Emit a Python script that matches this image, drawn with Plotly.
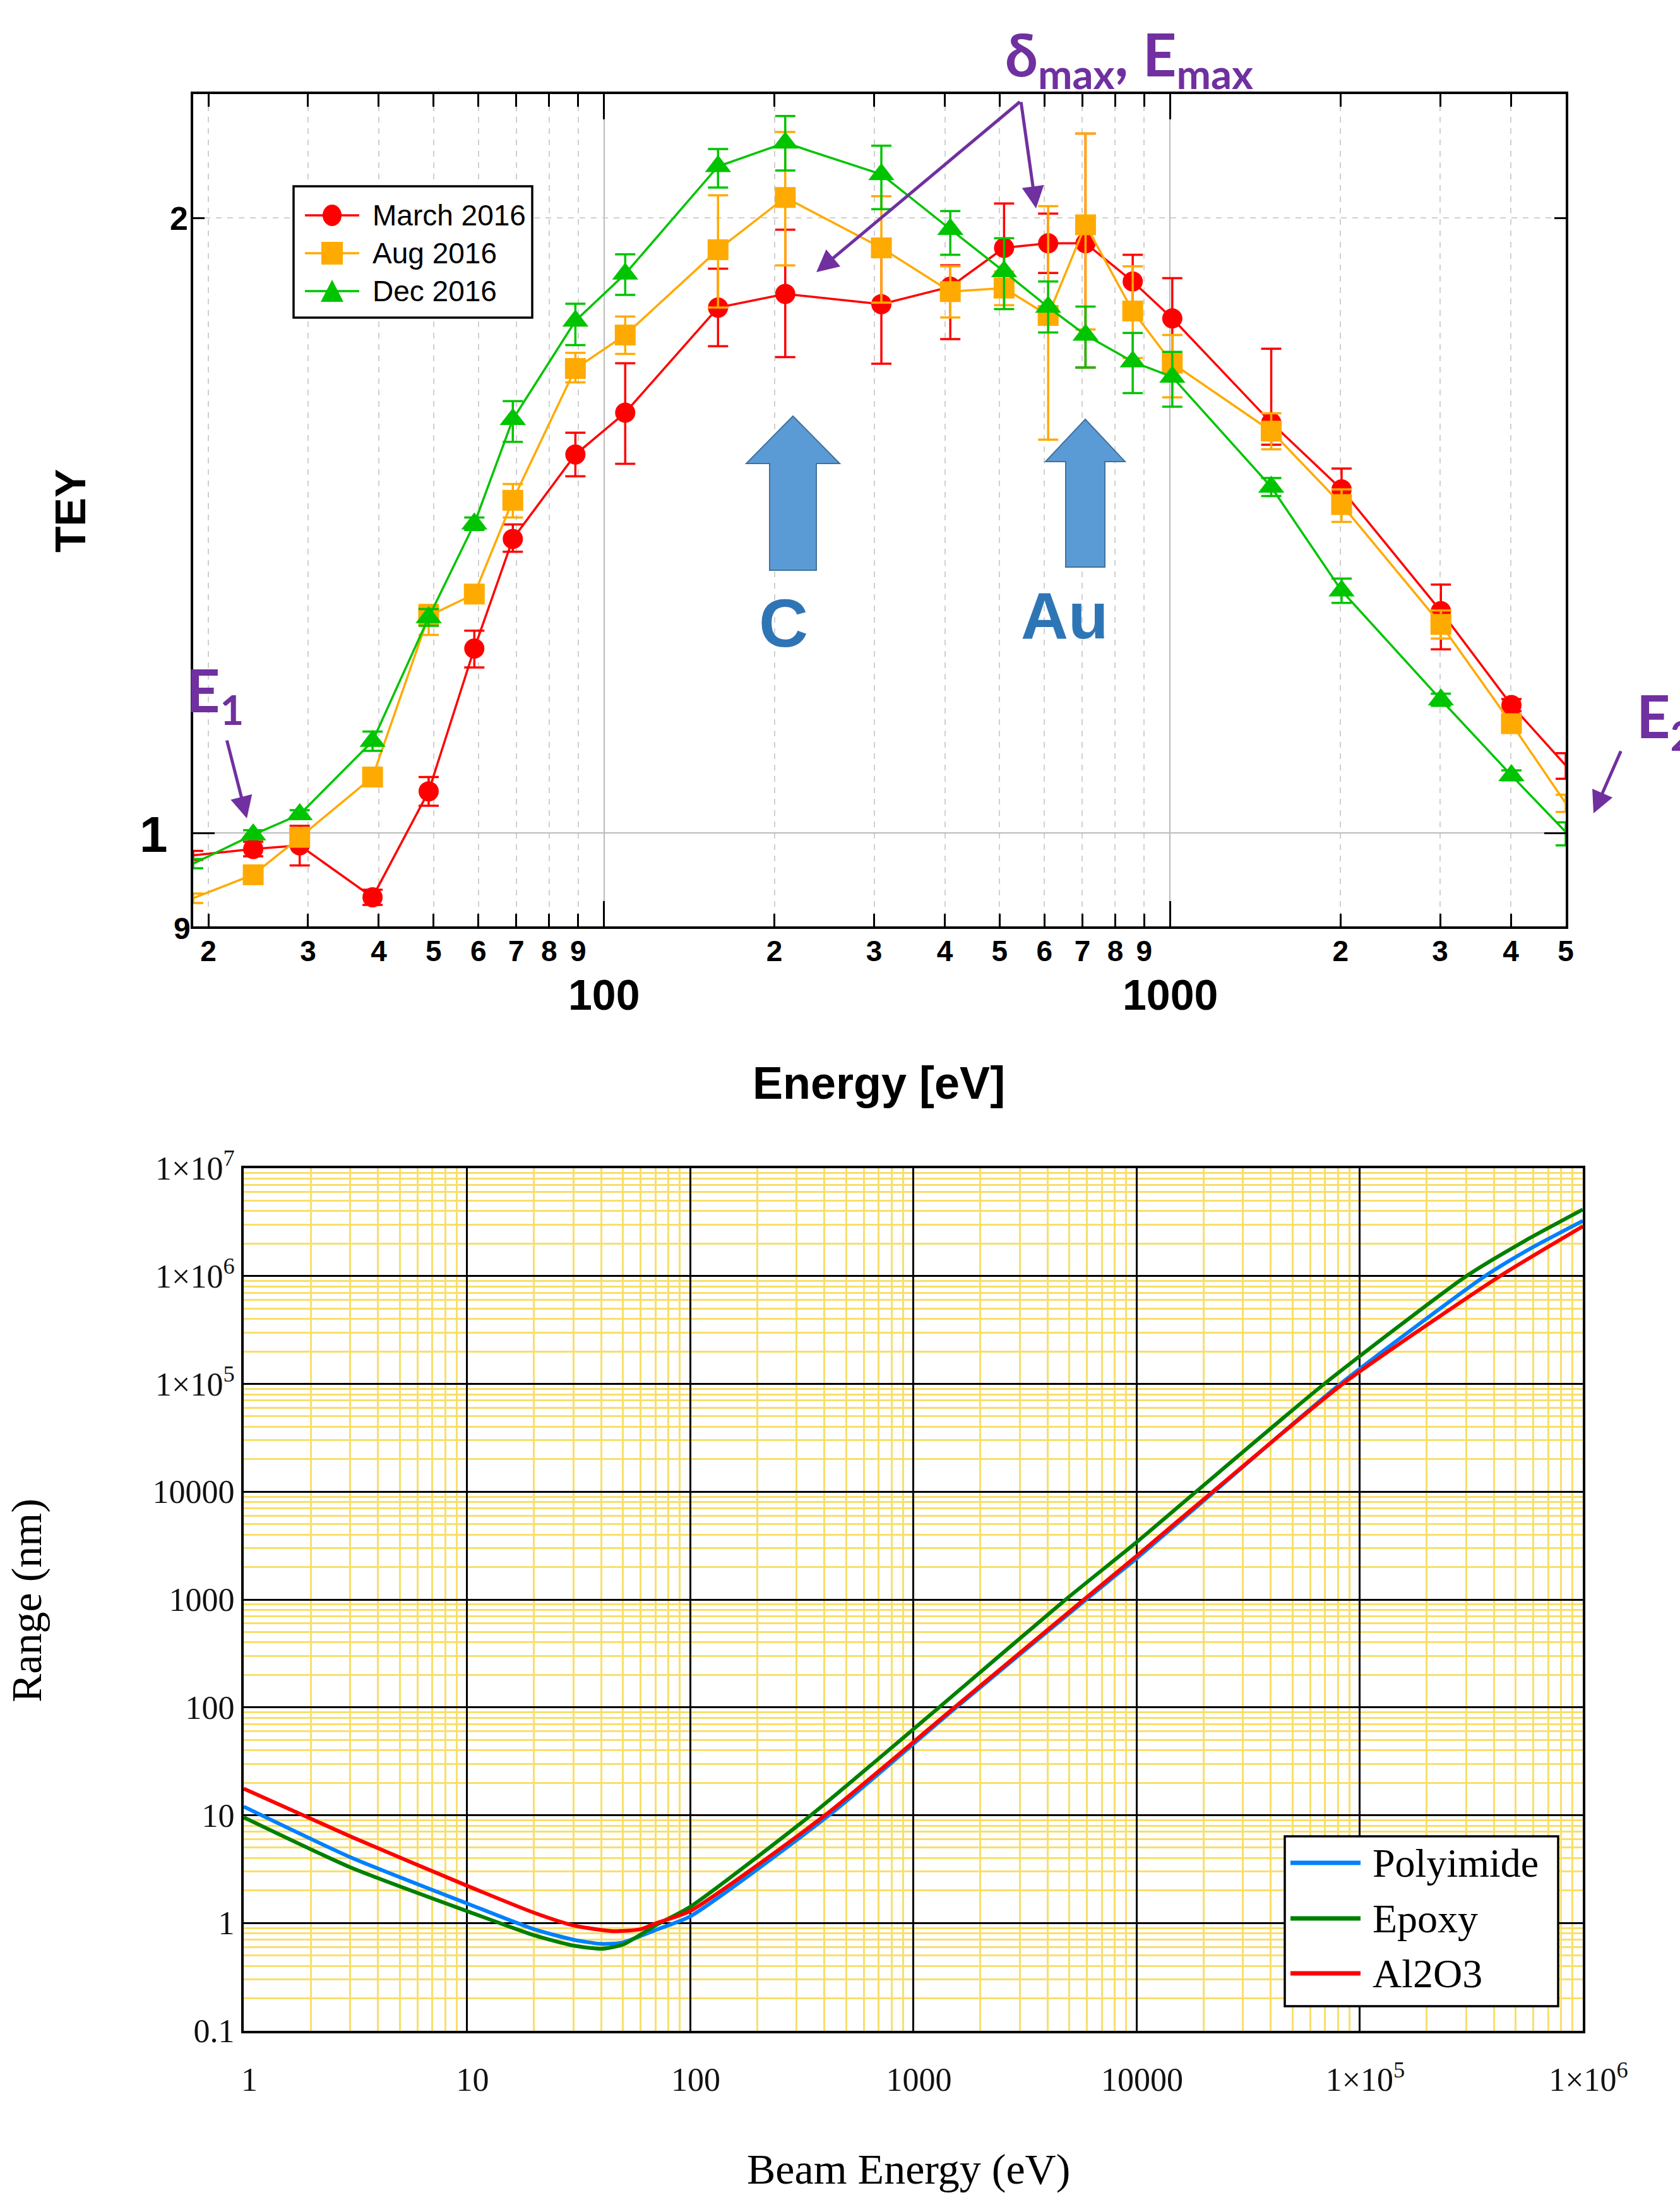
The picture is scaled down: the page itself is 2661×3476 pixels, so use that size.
import math
import plotly.graph_objects as go

W, H = 2661, 3476


def px(x):
    return x / W


def py(y):
    return 1 - y / H


# ---------------- data: top chart (TEY vs energy) ----------------
energy_ev = [18.8, 24, 29, 39, 49, 59, 69, 89, 109, 159, 209, 309, 409, 509,
             609, 709, 859, 1009, 1509, 2009, 3009, 4009, 5000]

march_2016 = [0.975, 0.982, 0.986, 0.930, 1.048, 1.231, 1.393, 1.532, 1.606, 1.808,
              1.836, 1.815, 1.851, 1.934, 1.944, 1.944, 1.862, 1.786, 1.588, 1.473,
              1.284, 1.155, 1.079]
march_err_up = [0.005, 0.008, 0.022, 0.008, 0.017, 0.025, 0.023, 0.038, 0.092, 0.081,
                0.138, 0.105, 0.045, 0.099, 0.066, 0.256, 0.057, 0.083, 0.138, 0.035,
                0.039, 0.008, 0.015]
march_err_dn = [0.005, 0.008, 0.022, 0.008, 0.017, 0.026, 0.020, 0.037, 0.090, 0.077,
                0.126, 0.118, 0.106, 0.099, 0.064, 0.254, 0.042, 0.094, 0.039, 0.035,
                0.054, 0.008, 0.016]

aug_2016 = [0.929, 0.954, 0.995, 1.065, 1.277, 1.309, 1.455, 1.688, 1.753, 1.930,
            2.047, 1.934, 1.841, 1.848, 1.792, 1.985, 1.801, 1.698, 1.573, 1.448,
            1.265, 1.131, 1.034]
aug_err_up = [0.005, 0.005, 0.008, 0.005, 0.016, 0.008, 0.027, 0.030, 0.037, 0.122,
              0.157, 0.116, 0.053, 0.035, 0.235, 0.215, 0.093, 0.055, 0.032, 0.025,
              0.020, 0.010, 0.010]
aug_err_dn = [0.005, 0.005, 0.008, 0.005, 0.027, 0.008, 0.028, 0.026, 0.037, 0.122,
              0.151, 0.116, 0.053, 0.035, 0.234, 0.221, 0.093, 0.064, 0.032, 0.028,
              0.020, 0.010, 0.010]

dec_2016 = [0.966, 0.998, 1.021, 1.109, 1.275, 1.417, 1.594, 1.781, 1.878, 2.120,
            2.177, 2.101, 1.975, 1.883, 1.809, 1.753, 1.701, 1.672, 1.477, 1.314,
            1.162, 1.067, 1.001]
dec_err_up = [0.005, 0.005, 0.005, 0.012, 0.012, 0.010, 0.033, 0.035, 0.042, 0.042,
              0.067, 0.069, 0.041, 0.072, 0.053, 0.057, 0.056, 0.048, 0.015, 0.018,
              0.008, 0.006, 0.011]
dec_err_dn = [0.005, 0.005, 0.005, 0.012, 0.012, 0.010, 0.040, 0.048, 0.044, 0.050,
              0.067, 0.081, 0.056, 0.078, 0.051, 0.063, 0.059, 0.055, 0.015, 0.018,
              0.008, 0.006, 0.015]

series_names = ["March 2016", "Aug 2016", "Dec 2016"]

top_minor_labels = ["2", "3", "4", "5", "6", "7", "8", "9"]
top_tick_vals = [20, 30, 40, 50, 60, 70, 80, 90,
                 200, 300, 400, 500, 600, 700, 800, 900,
                 2000, 3000, 4000, 5000]
top_tick_text = top_minor_labels + top_minor_labels + ["2", "3", "4", "5"]
top_decades = [100, 1000]
top_decade_labels = ["100", "1000"]

# ---------------- data: bottom chart (range vs beam energy) ----------------
poly_e = [1, 3, 10, 20, 30, 40, 50, 70, 100, 420, 1560, 5950, 10000, 22300,
          82000, 365000, 600000, 1000000]
poly_r = [12.0, 4.08, 1.52, 0.875, 0.70, 0.64, 0.66, 0.86, 1.15, 10, 100, 1000,
          2400, 10000, 100000, 1000000, 1860000, 3250000]

epoxy_e = [1, 3, 10, 20, 30, 40, 50, 70, 100, 348, 1306, 4820, 10000, 18500,
           69500, 301000, 550000, 1000000]
epoxy_r = [9.55, 3.29, 1.29, 0.77, 0.617, 0.577, 0.63, 0.95, 1.41, 10, 100, 1000,
           3394, 10000, 100000, 1000000, 2120000, 4140000]

al2o3_e = [1, 3, 10, 20, 30, 45, 60, 70, 100, 403, 1531, 5820, 10000, 21970,
           84100, 426000, 1000000]
al2o3_r = [17.6, 6.37, 2.22, 1.245, 0.95, 0.84, 0.875, 0.99, 1.29, 10, 100, 1000,
           2528, 10000, 100000, 1000000, 2890000]

material_names = ["Polyimide", "Epoxy", "Al2O3"]

bot_x_vals = [1, 10, 100, 1000, 10000, 1e5, 1e6]
bot_x_text = ["1", "10", "100", "1000", "10000", "1×10<sup>5</sup>", "1×10<sup>6</sup>"]
bot_y_vals = [0.1, 1, 10, 100, 1000, 10000, 1e5, 1e6, 1e7]
bot_y_text = ["0.1", "1", "10", "100", "1000", "10000", "1×10<sup>5</sup>",
              "1×10<sup>6</sup>", "1×10<sup>7</sup>"]

# ---------------- styles ----------------
RED, ORANGE, GREEN = "#FF0000", "#FFAA00", "#00C400"
BLUE2, GREEN2, RED2 = "#0080FF", "#008000", "#FF0000"
PURPLE = "#7030A0"
YELLOW = "#F8DF6A"
SANS = "Liberation Sans, Arial, sans-serif"
SERIF = "Liberation Serif, Times New Roman, serif"
CAL = "Lato, Open Sans, sans-serif"

fig = go.Figure()

tey_sets = [
    (march_2016, march_err_up, march_err_dn, RED, "circle", 32),
    (aug_2016, aug_err_up, aug_err_dn, ORANGE, "square", 33),
    (dec_2016, dec_err_up, dec_err_dn, GREEN, "triangle-up", 36),
]
for name, (vals, up, dn, col, sym, sz) in zip(series_names, tey_sets):
    fig.add_trace(go.Scatter(
        x=energy_ev, y=vals, name=name, mode="lines+markers",
        line=dict(color=col, width=3.5),
        marker=dict(symbol=sym, size=sz, color=col, line=dict(width=0)),
        error_y=dict(type="data", symmetric=False, array=up, arrayminus=dn,
                     color=col, thickness=3.5, width=16),
        xaxis="x", yaxis="y", showlegend=False, cliponaxis=False))

for name, e, r, col in zip(material_names, [poly_e, epoxy_e, al2o3_e],
                           [poly_r, epoxy_r, al2o3_r], [BLUE2, GREEN2, RED2]):
    fig.add_trace(go.Scatter(
        x=e, y=r, name=name, mode="lines",
        line=dict(color=col, width=6, shape="spline", smoothing=0.6),
        xaxis="x2", yaxis="y2", showlegend=False))

bot_minor_x = [d * 10 ** n for n in range(0, 7) for d in range(2, 10)]
bot_minor_y = [d * 10 ** n for n in range(-1, 7) for d in range(2, 10)]

fig.update_layout(
    width=W, height=H,
    margin=dict(l=0, r=0, t=0, b=0),
    paper_bgcolor="white", plot_bgcolor="white",
    showlegend=False,
    xaxis=dict(
        type="log", range=[1.2742, 3.69897], domain=[px(306), px(2480)],
        anchor="y", showline=True, linecolor="black", linewidth=4, mirror="ticks",
        ticks="inside", ticklen=20, tickwidth=3, tickcolor="black",
        tickmode="array", tickvals=top_tick_vals, ticktext=top_tick_text,
        tickfont=dict(family=SANS, size=46, color="black", weight="bold"),
        ticklabelstandoff=-4,
        showgrid=True, gridcolor="#D0D0D0", gridwidth=1.5, griddash="dash",
        minor=dict(tickmode="array", tickvals=top_decades, ticks="inside",
                   ticklen=40, tickwidth=3, tickcolor="black", showgrid=True,
                   gridcolor="#BBBBBB", gridwidth=1.5, griddash="solid"),
        zeroline=False, automargin=False),
    yaxis=dict(
        type="log", range=[-0.045757, 0.36173], domain=[py(1467), py(149)],
        anchor="x", showline=True, linecolor="black", linewidth=4, mirror="ticks",
        ticks="inside", ticklen=34, tickwidth=3, tickcolor="black",
        tickmode="array", tickvals=[1], showticklabels=False,
        showgrid=True, gridcolor="#BBBBBB", gridwidth=1.5,
        minor=dict(tickmode="array", tickvals=[2], ticks="inside", ticklen=18,
                   tickwidth=3, tickcolor="black", showgrid=True,
                   gridcolor="#D0D0D0", gridwidth=1.5, griddash="dash"),
        zeroline=False, automargin=False),
    xaxis2=dict(
        type="log", range=[0, 6], domain=[px(386), px(2507)], anchor="y2",
        showline=True, linecolor="black", linewidth=4, mirror=True,
        ticks="", tickmode="array", tickvals=bot_x_vals, ticktext=bot_x_text,
        tickfont=dict(family=SERIF, size=52, color="#111111"),
        ticklabelstandoff=29, ticklabelshift=9,
        showgrid=True, gridcolor="black", gridwidth=3,
        minor=dict(tickmode="array", tickvals=bot_minor_x, ticks="", showgrid=True,
                   gridcolor=YELLOW, gridwidth=3),
        zeroline=False, automargin=False),
    yaxis2=dict(
        type="log", range=[-1, 7], domain=[py(3216), py(1850)], anchor="x2",
        showline=True, linecolor="black", linewidth=4, mirror=True,
        ticks="", tickmode="array", tickvals=bot_y_vals, ticktext=bot_y_text,
        tickfont=dict(family=SERIF, size=52, color="#111111"),
        ticklabelstandoff=0,
        showgrid=True, gridcolor="black", gridwidth=3,
        minor=dict(tickmode="array", tickvals=bot_minor_y,
                   ticks="", showgrid=True, gridcolor=YELLOW, gridwidth=3),
        zeroline=False, automargin=False),
)

shapes = []
annos = []


def pth(points):
    return "M " + " L ".join(f"{px(x):.6f},{py(y):.6f}" for x, y in points) + " Z"


# block arrows
for pts in ([(1256, 659), (1330, 734), (1293, 734), (1293, 903), (1219, 903), (1219, 734), (1182, 734)],
            [(1719, 664), (1782, 731), (1750, 731), (1750, 898), (1688, 898), (1688, 731), (1656, 731)]):
    shapes.append(dict(type="path", xref="paper", yref="paper", path=pth(pts),
                       fillcolor="#5B9BD5", line=dict(color="#41719C", width=2), layer="above"))

# top legend
shapes.append(dict(type="rect", xref="paper", yref="paper", x0=px(465), x1=px(843),
                   y0=py(503), y1=py(295), fillcolor="white",
                   line=dict(color="black", width=3.5), layer="above"))
rows = [341, 401, 461]
for (vals, up, dn, col, sym, sz), yy, name in zip(tey_sets, rows, series_names):
    shapes.append(dict(type="line", xref="paper", yref="paper", x0=px(483), x1=px(569),
                       y0=py(yy), y1=py(yy), line=dict(color=col, width=3.5), layer="above"))
    if sym == "circle":
        shapes.append(dict(type="circle", xref="paper", yref="paper", x0=px(511), x1=px(541),
                           y0=py(yy + 17), y1=py(yy - 17), fillcolor=col,
                           line=dict(width=0), layer="above"))
    elif sym == "square":
        shapes.append(dict(type="rect", xref="paper", yref="paper", x0=px(509), x1=px(543),
                           y0=py(yy + 18), y1=py(yy - 18), fillcolor=col,
                           line=dict(width=0), layer="above"))
    else:
        shapes.append(dict(type="path", xref="paper", yref="paper",
                           path=pth([(526, yy - 18), (544, yy + 17), (508, yy + 17)]),
                           fillcolor=col, line=dict(width=0), layer="above"))
    annos.append(dict(x=px(588), y=py(yy), text=name, xanchor="left",
                      font=dict(family=SANS, size=46, color="black")))

# bottom legend
shapes.append(dict(type="rect", xref="paper", yref="paper", x0=px(2035), x1=px(2468),
                   y0=py(3177), y1=py(2908), fillcolor="white",
                   line=dict(color="black", width=3.5), layer="above"))
for name, col, yy in zip(material_names, [BLUE2, GREEN2, RED2], [2950, 3038, 3125]):
    shapes.append(dict(type="line", xref="paper", yref="paper", x0=px(2044), x1=px(2155),
                       y0=py(yy), y1=py(yy), line=dict(color=col, width=7), layer="above"))
    annos.append(dict(x=px(2172), y=py(yy), text=name, xanchor="left",
                      font=dict(family=SERIF, size=64, color="black")))

# top chart texts
annos += [
    dict(x=px(111), y=py(809), text="TEY", textangle=-90,
         font=dict(family=SANS, size=68, color="black", weight="bold")),
    dict(x=px(1392), y=py(1715), text="Energy [eV]",
         font=dict(family=SANS, size=72, color="black", weight="bold")),
    dict(x=px(300), y=py(346), text="2", xanchor="right",
         font=dict(family=SANS, size=52, color="black", weight="bold")),
    dict(x=px(268), y=py(1321), text="1", xanchor="right",
         font=dict(family=SANS, size=80, color="black", weight="bold")),
    dict(x=px(288), y=py(1470), text="9",
         font=dict(family=SANS, size=48, color="black", weight="bold")),
    dict(x=px(1241), y=py(986), text="C",
         font=dict(family=SANS, size=108, color="#2E75B6", weight="bold")),
    dict(x=px(1686), y=py(975), text="Au",
         font=dict(family=SANS, size=104, color="#2E75B6", weight="bold")),
    dict(x=px(1590), y=py(92), text="δ<sub>max</sub>, E<sub>max</sub>", xanchor="left",
         font=dict(family=CAL, size=93, color=PURPLE, weight="bold")),
    dict(x=px(293), y=py(1099), text="E<sub>1</sub>", xanchor="left",
         font=dict(family=CAL, size=93, color=PURPLE, weight="bold")),
    dict(x=px(2590), y=py(1140), text="E<sub>2</sub>", xanchor="left",
         font=dict(family=CAL, size=93, color=PURPLE, weight="bold")),
    # bottom axis titles
    dict(x=px(1439), y=py(3435), text="Beam Energy (eV)",
         font=dict(family=SERIF, size=68, color="black")),
    dict(x=px(42), y=py(2535), text="Range (nm)", textangle=-90,
         font=dict(family=SERIF, size=68, color="black")),
]

for a in annos:
    a.setdefault("xref", "paper")
    a.setdefault("yref", "paper")
    a.setdefault("showarrow", False)
    a.setdefault("xanchor", "center")
    a.setdefault("yanchor", "middle")

# decade labels under the top axis (log axis: positions given as log10)
for dval, lab in zip(top_decades, top_decade_labels):
    annos.append(dict(xref="x", yref="paper", x=math.log10(dval), y=py(1575), text=lab,
                      showarrow=False, xanchor="center", yanchor="middle",
                      font=dict(family=SANS, size=68, color="black", weight="bold")))

# purple arrows (head, tail)
for (hx, hy), (tx, ty) in [((1293, 431), (1617, 160)), ((1641, 330), (1617, 160)),
                           ((391, 1296), (359, 1171)), ((2524, 1288), (2568, 1188))]:
    annos.append(dict(xref="paper", yref="paper", x=px(hx), y=py(hy), text="",
                      showarrow=True, ax=tx - hx, ay=ty - hy, arrowhead=2, arrowsize=1.4,
                      arrowwidth=5, arrowcolor=PURPLE, standoff=0, startstandoff=0))

fig.update_layout(shapes=shapes, annotations=annos)
fig.write_html("out.html")
